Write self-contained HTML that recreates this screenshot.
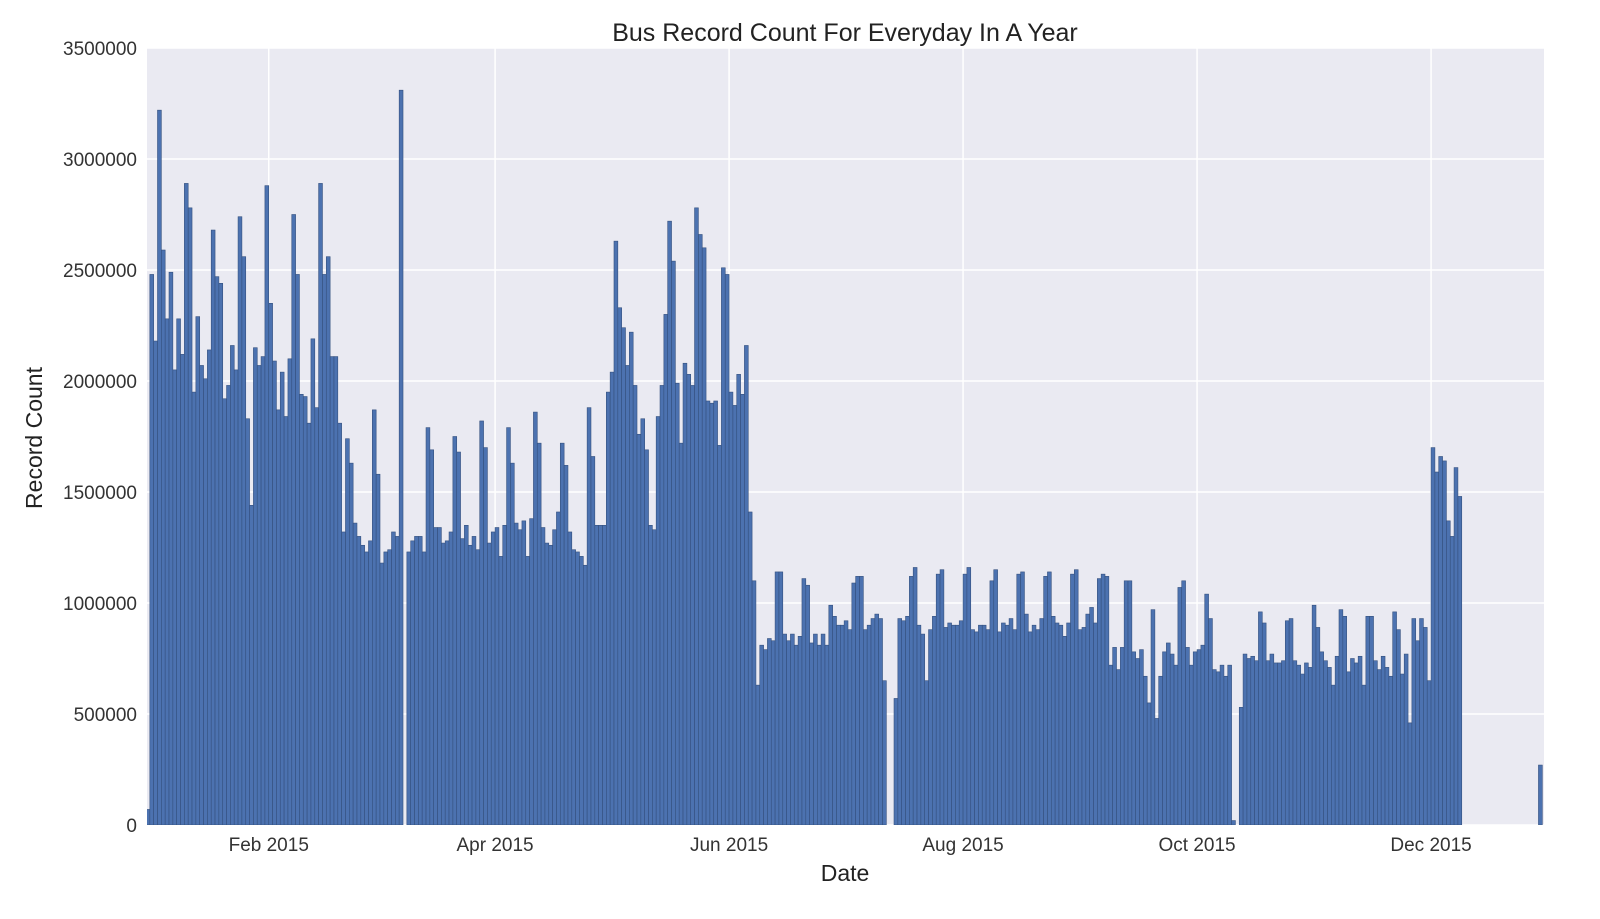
<!DOCTYPE html>
<html><head><meta charset="utf-8"><style>
html,body{margin:0;padding:0;background:#fff;}
svg text{font-family:"Liberation Sans",Arial,sans-serif;}
</style></head><body>
<svg id="chart" width="1600" height="914" viewBox="0 0 1600 914" xmlns="http://www.w3.org/2000/svg">
<defs><clipPath id="pc"><rect x="147" y="48" width="1397" height="777"/></clipPath></defs>
<rect x="147" y="48" width="1397" height="777" fill="#EAEAF2"/>
<g id="grid"></g>
<g id="bars" clip-path="url(#pc)"></g>
<g id="yt"></g>
<g id="xt"></g>
<text x="845" y="41" font-size="25" text-anchor="middle" fill="#222">Bus Record Count For Everyday In A Year</text>
<text x="845" y="881" font-size="23" text-anchor="middle" fill="#222">Date</text>
<text x="0" y="0" font-size="23" text-anchor="middle" fill="#222" transform="translate(42,438) rotate(-90)">Record Count</text>
</svg>
<script>
// daily values in millions, index 0 = 2014-12-31
const counts = [0.07,
2.48,2.18,3.22,2.59,2.28,2.49,2.05,2.28,2.12,2.89,2.78,1.95,2.29,2.07,2.01,2.14,2.68,2.47,2.44,1.92,1.98,2.16,2.05,2.74,2.56,1.83,1.44,2.15,2.07,2.11,
2.88,2.35,2.09,1.87,2.04,1.84,2.10,2.75,2.48,1.94,1.93,1.81,2.19,1.88,2.89,2.48,2.56,2.11,2.11,1.81,1.32,1.74,1.63,1.36,1.30,1.26,1.23,1.28,
1.87,1.58,1.18,1.23,1.24,1.32,1.30,3.31,0,1.23,1.28,1.30,1.30,1.23,1.79,1.69,1.34,1.34,1.27,1.28,1.32,1.75,1.68,1.29,1.35,1.26,1.30,1.24,1.82,1.70,1.27,1.32,
1.34,1.21,1.35,1.79,1.63,1.36,1.33,1.37,1.21,1.38,1.86,1.72,1.34,1.27,1.26,1.33,1.41,1.72,1.62,1.32,1.24,1.23,1.21,1.17,1.88,1.66,1.35,1.35,1.35,1.95,
2.04,2.63,2.33,2.24,2.07,2.22,1.98,1.76,1.83,1.69,1.35,1.33,1.84,1.98,2.30,2.72,2.54,1.99,1.72,2.08,2.03,1.98,2.78,2.66,2.60,1.91,1.90,1.91,1.71,2.51,2.48,
1.95,1.89,2.03,1.94,2.16,1.41,1.10,0.63,0.81,0.79,0.84,0.83,1.14,1.14,0.86,0.83,0.86,0.81,0.85,1.11,1.08,0.82,0.86,0.81,0.86,0.81,0.99,0.94,0.90,
0.90,0.92,0.88,1.09,1.12,1.12,0.88,0.90,0.93,0.95,0.93,0.65,0,0,0.57,0.93,0.92,0.94,1.12,1.16,0.90,0.86,0.65,0.88,0.94,1.13,1.15,0.89,0.91,0.90,0.90,0.92,
1.13,1.16,0.88,0.87,0.90,0.90,0.88,1.10,1.15,0.87,0.91,0.90,0.93,0.88,1.13,1.14,0.95,0.87,0.90,0.88,0.93,1.12,1.14,0.94,0.91,0.90,0.85,0.91,1.13,1.15,0.88,0.89,0.95,0.98,0.91,
1.11,1.13,1.12,0.72,0.80,0.70,0.80,1.10,1.10,0.78,0.75,0.79,0.67,0.55,0.97,0.48,0.67,0.78,0.82,0.77,0.72,1.07,1.10,0.80,0.72,0.78,
0.79,0.81,1.04,0.93,0.70,0.69,0.72,0.67,0.72,0.02,0,0.53,0.77,0.75,0.76,0.74,0.96,0.91,0.74,0.77,0.73,0.73,0.74,0.92,0.93,0.74,0.72,0.68,0.73,0.71,0.99,0.89,0.78,0.74,0.71,0.63,0.76,0.97,0.94,0.69,0.75,0.73,0.76,0.63,0.94,0.94,0.74,0.70,0.76,0.71,0.67,0.96,0.88,0.68,0.77,0.46,0.93,0.83,0.93,0.89,0.65,
1.70,1.59,1.66,1.64,1.37,1.30,1.61,1.48,0,0,0,0,0,0,0,0,0,0,0,0,0,0,0,0,0,0,0,0,0.27,0];
const yTicks = [0,500000,1000000,1500000,2000000,2500000,3000000,3500000];
const xTickDays = [32,91,152,213,274,335];
const xTickLabels = ["Feb 2015","Apr 2015","Jun 2015","Aug 2015","Oct 2015","Dec 2015"];

const NS="http://www.w3.org/2000/svg";
const X0=146, DAY=3.836, Y0=825, YTOP=48, YMAX=3500000;
function xs(d){return X0+d*DAY;}
function ys(v){return Y0-(v/YMAX)*(Y0-YTOP);}
function mk(tag,attrs,parent){const e=document.createElementNS(NS,tag);for(const k in attrs)e.setAttribute(k,attrs[k]);parent.appendChild(e);return e;}
const grid=document.getElementById('grid'),bars=document.getElementById('bars'),yt=document.getElementById('yt'),xt=document.getElementById('xt');
yTicks.forEach(v=>{
  const l=mk('line',{x1:147,x2:1544,y1:ys(v),y2:ys(v),stroke:'#fff','stroke-width':1.5},grid);
  
  
  const t=mk('text',{x:137,y:ys(v)+7,'font-size':19,'text-anchor':'end',fill:'#333'},yt);
  t.textContent=String(v);
  
  
});
xTickDays.forEach((d,i)=>{
  const l=mk('line',{x1:xs(d),x2:xs(d),y1:48,y2:825,stroke:'#fff','stroke-width':1.5},grid);
  
  
  const t=mk('text',{x:xs(d),y:851,'font-size':19,'text-anchor':'middle',fill:'#333'},xt);
  t.textContent=xTickLabels[i];
  
  
});
counts.forEach((v,i)=>{
  if(v<=0)return;
  const val=v*1000000;
  const r=mk('rect',{x:xs(i),y:ys(val),width:DAY,height:Y0-ys(val),fill:'#4C72B0',stroke:'#34507e','stroke-width':0.6},bars);
  
  
});
</script>
</body></html>
